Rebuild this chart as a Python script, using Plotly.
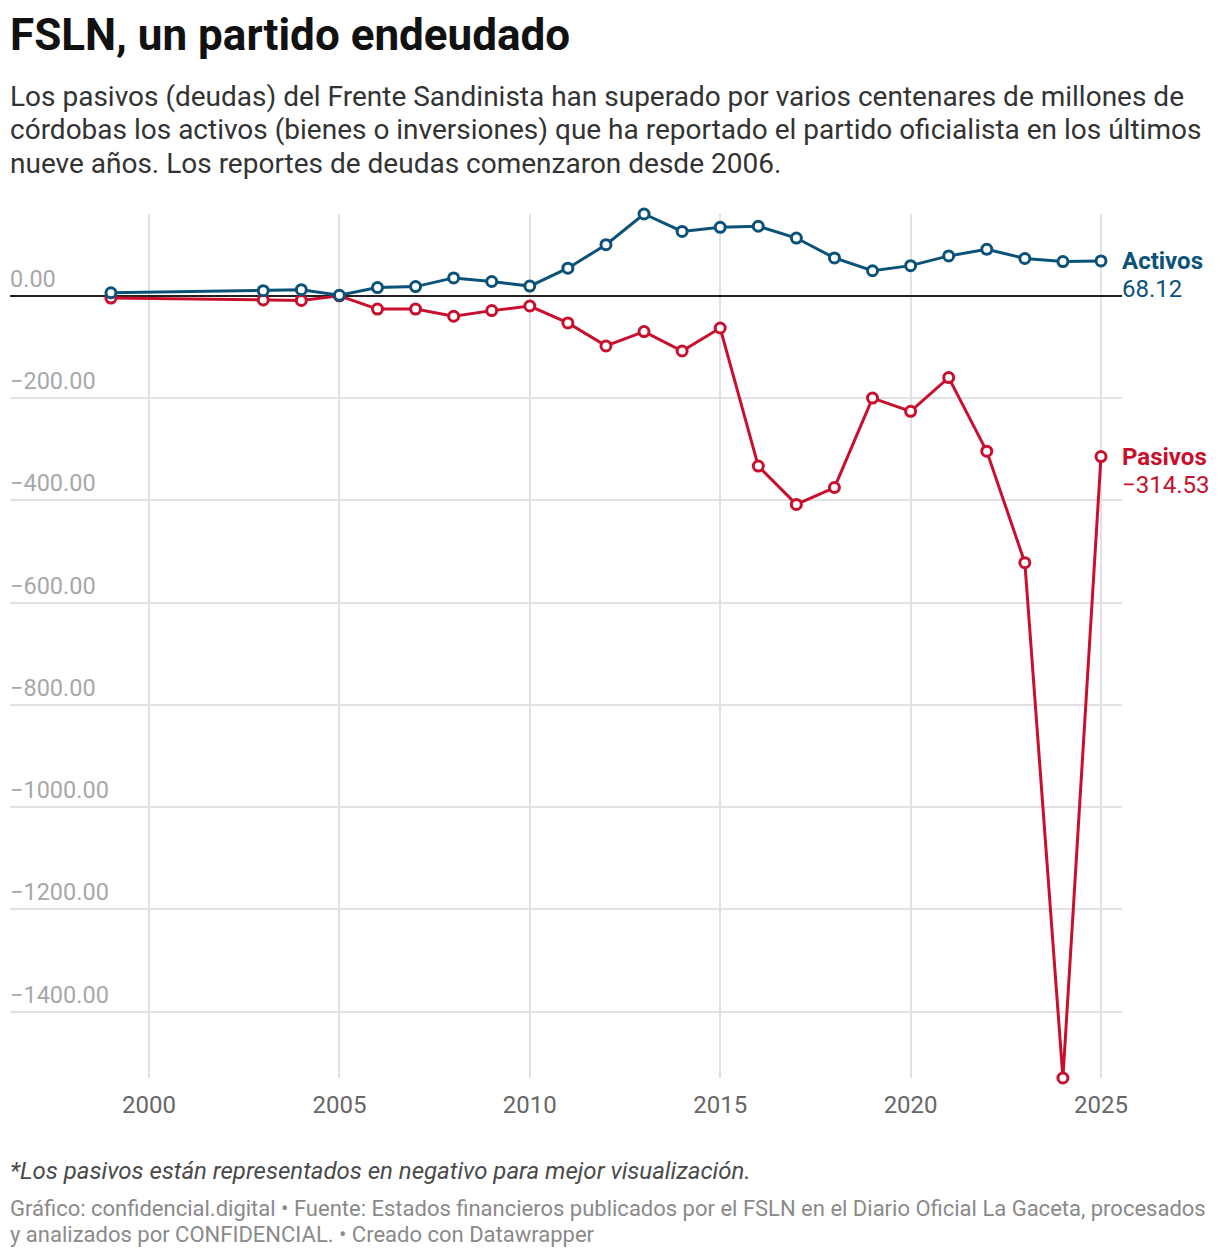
import plotly.graph_objects as go

years = [1999, 2003, 2004, 2005, 2006, 2007, 2008, 2009, 2010, 2011, 2012, 2013,
         2014, 2015, 2016, 2017, 2018, 2019, 2020, 2021, 2022, 2023, 2024, 2025]
activos = [6, 10, 12, 1, 16, 18, 35, 28, 19, 54, 100, 160,
           126, 134, 136, 113, 74, 49, 59, 78, 91, 73, 67, 68.12]
pasivos = [-4.5, -8, -9, 0, -26, -26, -40, -29, -20, -53, -98, -70,
           -108, -63, -333, -408, -375, -200, -226, -160, -304, -522, -1530, -314.53]
y_ticks = [0, -200, -400, -600, -800, -1000, -1200, -1400]
y_tick_labels = ["0.00", "\u2212200.00", "\u2212400.00", "\u2212600.00", "\u2212800.00",
                 "\u22121000.00", "\u22121200.00", "\u22121400.00"]
x_ticks = [2000, 2005, 2010, 2015, 2020, 2025]

BLUE = "#0b5279"
RED = "#c8102e"
FONT = "Roboto"

W, H = 1220, 1258
PL, PR, PT, PB = 10, 1122, 214, 1078

fig = go.Figure()
for name, vals, col in [("Pasivos", pasivos, RED), ("Activos", activos, BLUE)]:
    fig.add_trace(go.Scatter(
        x=years, y=vals, mode="lines+markers", name=name,
        line=dict(color=col, width=3),
        marker=dict(size=10, color="white", line=dict(color=col, width=3)),
        cliponaxis=False, showlegend=False, hoverinfo="x+y"))

def py(p):
    return (PB - p) / (PB - PT)

ann = []
# y labels
for v, t in zip(y_ticks, y_tick_labels):
    ann.append(dict(x=0, xref="paper", y=v, yref="y", text=t, showarrow=False,
                    xanchor="left", yanchor="bottom", yshift=2, xshift=-1, borderpad=0,
                    font=dict(family=FONT, size=23.5, color="#a8a8a8")))
# right labels
ann.append(dict(x=1, xref="paper", y=activos[-1], yref="y", text="<b>Activos</b>",
                showarrow=False, xanchor="left", yanchor="middle", yshift=0, xshift=-2,
                font=dict(family=FONT, size=24, color=BLUE)))
ann.append(dict(x=1, xref="paper", y=activos[-1], yref="y", text=f"{activos[-1]:.2f}",
                showarrow=False, xanchor="left", yanchor="middle", yshift=-28, xshift=-2,
                font=dict(family=FONT, size=24, color=BLUE)))
ann.append(dict(x=1, xref="paper", y=pasivos[-1], yref="y", text="<b>Pasivos</b>",
                showarrow=False, xanchor="left", yanchor="middle", yshift=0, xshift=-2,
                font=dict(family=FONT, size=24, color=RED)))
ann.append(dict(x=1, xref="paper", y=pasivos[-1], yref="y",
                text="\u2212" + f"{abs(pasivos[-1]):.2f}",
                showarrow=False, xanchor="left", yanchor="middle", yshift=-28, xshift=-2,
                font=dict(family=FONT, size=24, color=RED)))

# title & subtitle
ann.append(dict(x=0, xref="paper", y=py(35), yref="paper", text="<b>FSLN, un partido endeudado</b>",
                showarrow=False, xanchor="left", yanchor="middle", xshift=-2,
                font=dict(family=FONT, size=44, color="#111111")))
sub = ["Los pasivos (deudas) del Frente Sandinista han superado por varios centenares de millones de",
       "córdobas los activos (bienes o inversiones) que ha reportado el partido oficialista en los últimos",
       "nueve años. Los reportes de deudas comenzaron desde 2006."]
for i, s in enumerate(sub):
    ann.append(dict(x=0, xref="paper", y=py(97 + 33 * i), yref="paper", text=s,
                    showarrow=False, xanchor="left", yanchor="middle", xshift=-2,
                    font=dict(family=FONT, size=28, color="#333333")))
ann.append(dict(x=0, xref="paper", y=py(1171), yref="paper",
                text="<i>*Los pasivos están representados en negativo para mejor visualización.</i>",
                showarrow=False, xanchor="left", yanchor="middle", xshift=-2,
                font=dict(family=FONT, size=24, color="#4a4a4a")))
src = ["Gráfico: confidencial.digital • Fuente: Estados financieros publicados por el FSLN en el Diario Oficial La Gaceta, procesados",
       "y analizados por CONFIDENCIAL. • Creado con Datawrapper"]
for i, s in enumerate(src):
    ann.append(dict(x=0, xref="paper", y=py(1208 + 26 * i), yref="paper", text=s,
                    showarrow=False, xanchor="left", yanchor="middle", xshift=-2,
                    font=dict(family=FONT, size=22, color="#8a8a8a")))

x0 = 2000 - (149 - PL) / 38.08
x1 = 2025 + (PR - 1101) / 38.08

fig.update_layout(
    width=W, height=H,
    margin=dict(l=PL, r=W - PR, t=PT, b=H - PB, pad=0),
    paper_bgcolor="white", plot_bgcolor="white",
    font=dict(family=FONT),
    annotations=ann,
    xaxis=dict(range=[x0, x1], tickvals=x_ticks, showgrid=True, gridcolor="#e2e2e2",
               gridwidth=1.5, zeroline=False, showline=False, ticks="",
               tickfont=dict(family=FONT, size=24, color="#666666"),
               ticklabelstandoff=10),
    yaxis=dict(range=[min(pasivos), max(activos)], tickvals=y_ticks, showgrid=True,
               gridcolor="#e2e2e2", gridwidth=1.5, zeroline=True, zerolinecolor="#222222",
               zerolinewidth=1.5, showticklabels=False, showline=False, ticks=""),
)
fig.write_html("out.html")
